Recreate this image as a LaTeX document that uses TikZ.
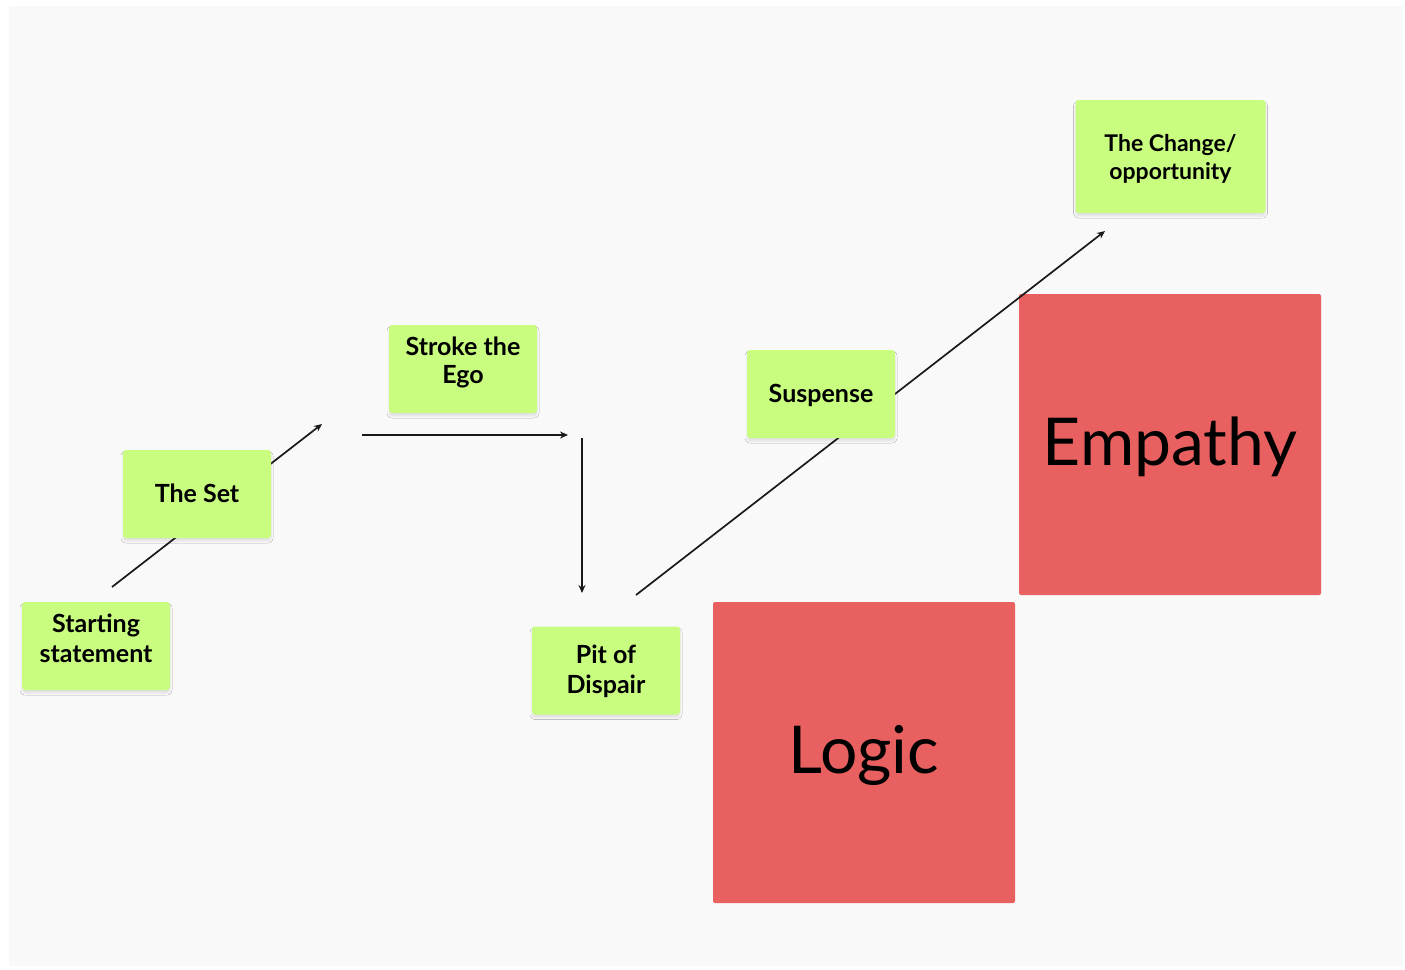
\documentclass[tikz,border=0pt]{standalone}
\usepackage{fontspec}
\setmainfont{Lato}
\usetikzlibrary{arrows.meta,shadows.blur}
\definecolor{canvasgray}{RGB}{249,249,249}
\definecolor{sticky}{RGB}{201,253,128}
\definecolor{bigred}{RGB}{232,96,96}
\tikzset{
  note/.style={fill=sticky, rounded corners=3pt, inner sep=0pt,
    minimum width=148pt, minimum height=88pt, align=center,
    font=\fontsize{25}{30}\selectfont\bfseries, text depth=0pt,
    blur shadow={shadow xshift=0pt, shadow yshift=-3pt, shadow blur steps=4, shadow opacity=10, shadow blur radius=2pt}},
  % text height sets how far the last baseline sits below the centre (half of it)
  lastline/.style={text height=#1},
  bigbox/.style={fill=bigred, rounded corners=2pt, inner sep=0pt,
    minimum width=302pt, minimum height=301pt,
    text height=41pt, text depth=0pt,
    font=\fontsize{66}{80}\selectfont},
  link/.style={draw=black!90, line width=1.7pt, -{Stealth[length=8pt,width=7pt]}}
}
\begin{document}
\begin{tikzpicture}[x=1pt,y=-1pt]
\useasboundingbox (0,0) rectangle (1405,969);
\fill[white] (0,0) rectangle (1405,969);
\fill[canvasgray] (9,6) rectangle (1403,966);

% large panels
\node[bigbox] (empathy) at (1170,444.5) {Empathy};
\node[bigbox] (logic) at (864,752.5) {Logic};

% free arrow ends
\coordinate (a1s) at (112,587);
\coordinate (a1e) at (322,424);
\coordinate (a2s) at (362,435);
\coordinate (a2e) at (568,435);
\coordinate (a3s) at (582,438);
\coordinate (a3e) at (582,593);
\coordinate (a4s) at (636,595);
\coordinate (a4e) at (1105,231);

\draw[link] (a1s) -- (a1e);
\draw[link] (a2s) -- (a2e);
\draw[link] (a3s) -- (a3e);
\draw[link] (a4s) -- (a4e);

% sticky notes
\node[note, lastline=33pt] (start) at (96,646) {Starting\\statement};
\node[note, lastline=16pt] (set) at (197,494) {The Set};
\node[note, lastline=28pt, font=\fontsize{25}{28}\selectfont\bfseries] (ego) at (463,369) {Stroke the\\Ego};
\node[note, lastline=46pt] (pit) at (606,670.5) {Pit of\\Dispair};
\node[note, lastline=16pt] (susp) at (821,394) {Suspense};
\node[note, minimum width=190pt, minimum height=113pt, lastline=45pt,
  font=\fontsize{23}{28}\selectfont\bfseries] (change) at (1170.5,156.5) {The Change/\\opportunity};
\end{tikzpicture}
\end{document}
